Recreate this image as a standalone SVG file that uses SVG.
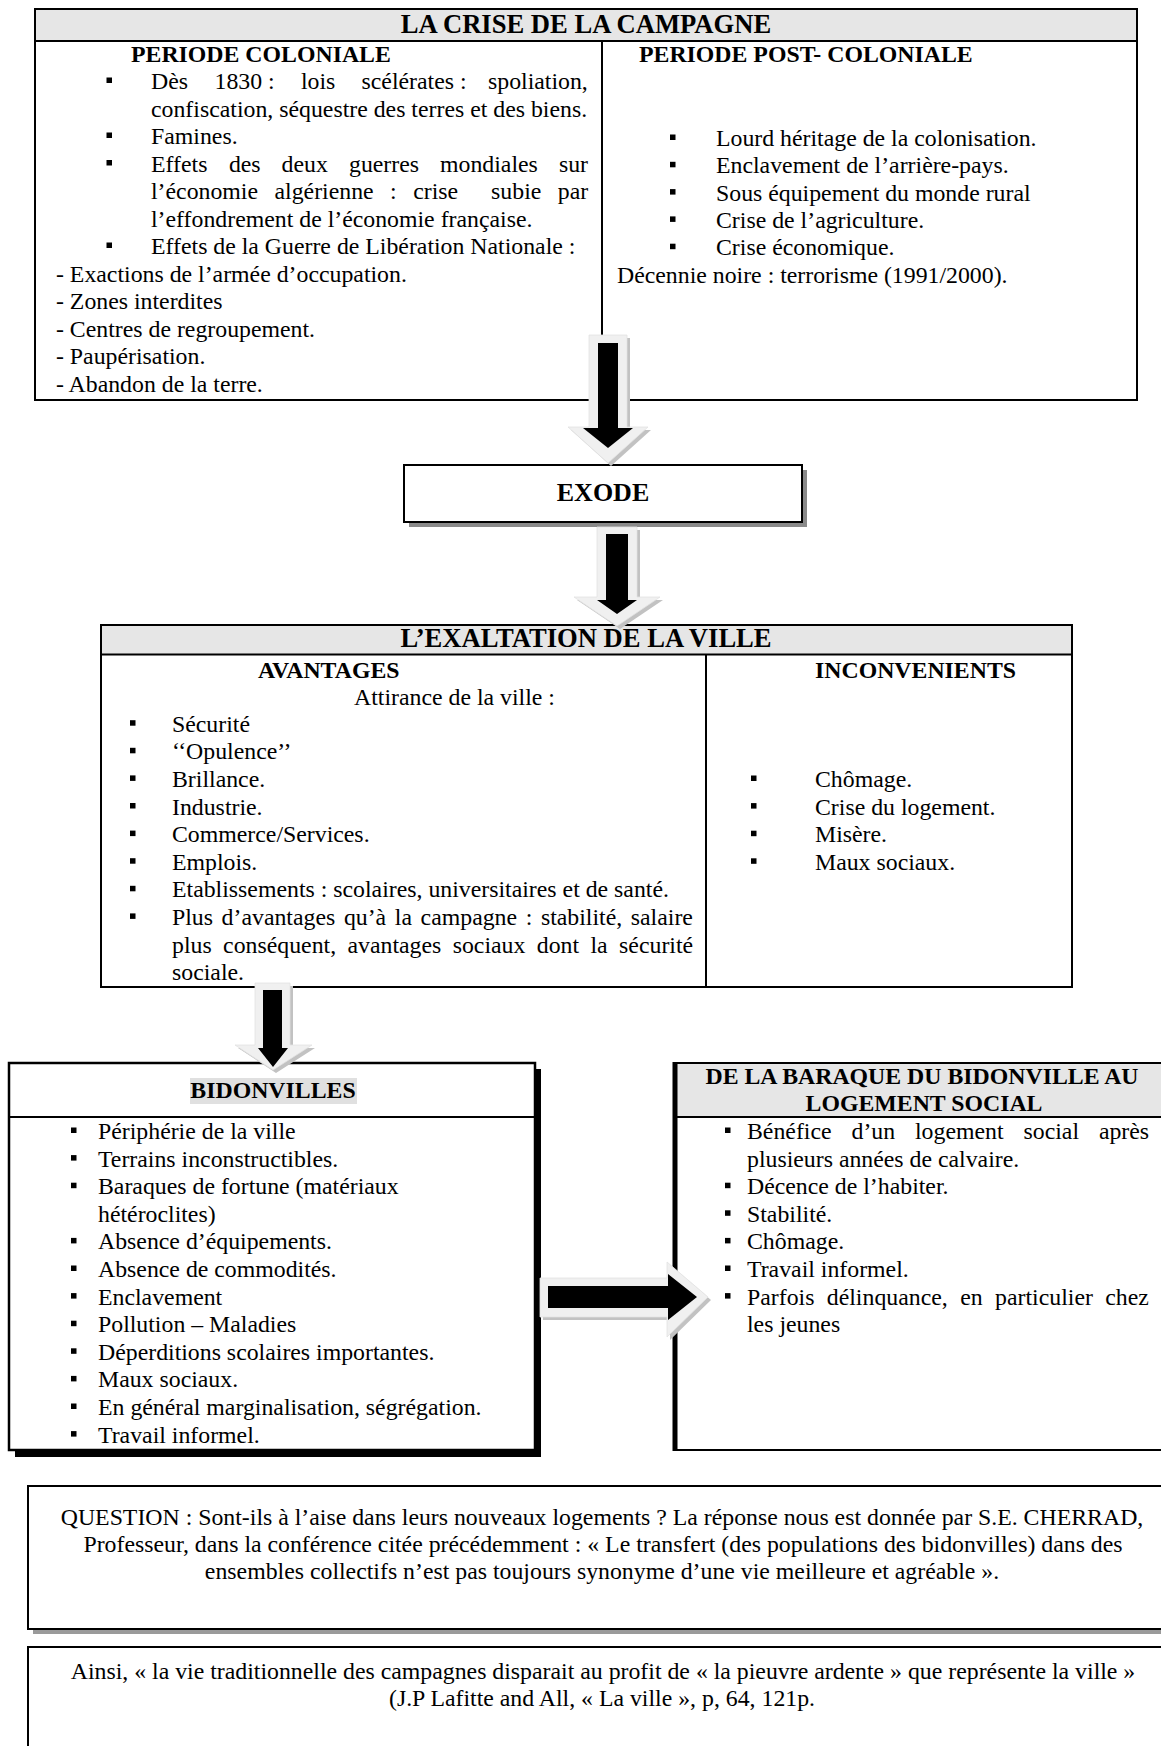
<svg xmlns="http://www.w3.org/2000/svg" xmlns:xlink="http://www.w3.org/1999/xlink" width="1161" height="1746" viewBox="0 0 1161 1746">
<style>
text{font-family:"Liberation Serif","Times New Roman",serif;font-size:23.8px;fill:#000}
.b{font-weight:bold}
.h{font-weight:bold;font-size:26.6px}
.c{text-anchor:middle}
.band{fill:#e6e6e6}
.frame{fill:none;stroke:#000;stroke-width:2}
.ln{stroke:#000;stroke-width:2}
.bg{fill:#fff}
.ash{fill:#c2c2c2}
.aout{fill:#f0f0f0;stroke:#e2e2e2;stroke-width:0.8}
.ain{fill:#000}
</style>
<defs>
<rect id="sq" x="0" y="0" width="5.5" height="5.5" fill="#000"/>
</defs>
<rect x="0" y="0" width="1161" height="1746" fill="#fff"/>

<g id="crise">
<rect class="bg" x="35" y="9" width="1102" height="391"/>
<rect class="band" x="35" y="9" width="1102" height="32"/>
<rect class="frame" x="35" y="9" width="1102" height="391"/>
<line class="ln" x1="35" y1="41" x2="1137" y2="41"/>
<line class="ln" x1="602" y1="41" x2="602" y2="400"/>
<text class="h c" x="586" y="33">LA CRISE DE LA CAMPAGNE</text>
<text class="b" x="131" y="62">PERIODE COLONIALE</text>
<text class="b" x="639" y="62">PERIODE POST- COLONIALE</text>
<use xlink:href="#sq" x="106.5" y="77.5"/>
<text y="89"><tspan x="151">Dès</tspan><tspan x="214.5">1830 :</tspan><tspan x="301">lois</tspan><tspan x="361.5">scélérates :</tspan><tspan x="488">spoliation,</tspan></text>
<text x="151" y="116.5">confiscation, séquestre des terres et des biens.</text>
<use xlink:href="#sq" x="106.5" y="132.5"/>
<text x="151" y="144">Famines.</text>
<use xlink:href="#sq" x="106.5" y="160"/>
<text y="171.5"><tspan x="151">Effets</tspan><tspan x="228.9">des</tspan><tspan x="281.6">deux</tspan><tspan x="349">guerres</tspan><tspan x="440">mondiales</tspan><tspan x="558.9">sur</tspan></text>
<text y="199"><tspan x="151">l’économie</tspan><tspan x="274.5">algérienne</tspan><tspan x="390.1">:</tspan><tspan x="413.2">crise</tspan><tspan x="491.1">subie</tspan><tspan x="557.8">par</tspan></text>
<text x="151" y="226.5">l’effondrement de l’économie française.</text>
<use xlink:href="#sq" x="106.5" y="242.5"/>
<text x="151" y="254">Effets de la Guerre de Libération Nationale :</text>
<text x="56" y="281.5">- Exactions de l’armée d’occupation.</text>
<text x="56" y="309">- Zones interdites</text>
<text x="56" y="336.5">- Centres de regroupement.</text>
<text x="56" y="364">- Paupérisation.</text>
<text x="56" y="391.5">- Abandon de la terre.</text>
<use xlink:href="#sq" x="670" y="134.5"/>
<text x="716" y="146">Lourd héritage de la colonisation.</text>
<use xlink:href="#sq" x="670" y="161.8"/>
<text x="716" y="173.3">Enclavement de l’arrière-pays.</text>
<use xlink:href="#sq" x="670" y="189.1"/>
<text x="716" y="200.6">Sous équipement du monde rural</text>
<use xlink:href="#sq" x="670" y="216.4"/>
<text x="716" y="227.9">Crise de l’agriculture.</text>
<use xlink:href="#sq" x="670" y="243.7"/>
<text x="716" y="255.2">Crise économique.</text>
<text x="617" y="282.5">Décennie noire : terrorisme (1991/2000).</text>
</g>

<g id="exode">
<rect x="409" y="470" width="398" height="57" fill="#8a8a8a"/>
<rect x="404" y="465" width="398" height="57" fill="#fff" stroke="#000" stroke-width="2"/>
<text class="b c" x="603" y="501" style="font-size:26px">EXODE</text>
</g>

<g id="exaltation">
<rect class="bg" x="101" y="625" width="971" height="362"/>
<rect class="band" x="101" y="625" width="971" height="29.5"/>
<rect class="frame" x="101" y="625" width="971" height="362"/>
<line class="ln" x1="101" y1="654.5" x2="1072" y2="654.5"/>
<line class="ln" x1="706" y1="654.5" x2="706" y2="987"/>
<text class="h c" x="586" y="647">L’EXALTATION DE LA VILLE</text>
<text class="b" x="258" y="678">AVANTAGES</text>
<text class="b" x="815" y="678">INCONVENIENTS</text>
<text x="354" y="705">Attirance de la ville :</text>
<use xlink:href="#sq" x="130" y="720.2"/>
<text x="172" y="731.7">Sécurité</text>
<use xlink:href="#sq" x="130" y="747.8"/>
<text x="172" y="759.3">‘‘Opulence’’</text>
<use xlink:href="#sq" x="130" y="775.4"/>
<text x="172" y="786.9">Brillance.</text>
<use xlink:href="#sq" x="130" y="803"/>
<text x="172" y="814.5">Industrie.</text>
<use xlink:href="#sq" x="130" y="830.6"/>
<text x="172" y="842.1">Commerce/Services.</text>
<use xlink:href="#sq" x="130" y="858.2"/>
<text x="172" y="869.7">Emplois.</text>
<use xlink:href="#sq" x="130" y="885.8"/>
<text x="172" y="897.3">Etablissements : scolaires, universitaires et de santé.</text>
<use xlink:href="#sq" x="130" y="913.4"/>
<text y="924.9"><tspan x="172">Plus</tspan><tspan x="221.6">d’avantages</tspan><tspan x="343.9">qu’à</tspan><tspan x="394.8">la</tspan><tspan x="420.6">campagne</tspan><tspan x="525.7">:</tspan><tspan x="540.9">stabilité,</tspan><tspan x="630.8">salaire</tspan></text>
<text y="952.5"><tspan x="172">plus</tspan><tspan x="223.1">conséquent,</tspan><tspan x="347.5">avantages</tspan><tspan x="452.7">sociaux</tspan><tspan x="536.8">dont</tspan><tspan x="590.5">la</tspan><tspan x="619.1">sécurité</tspan></text>
<text x="172" y="980.1">sociale.</text>
<use xlink:href="#sq" x="751" y="775.5"/>
<text x="815" y="787">Chômage.</text>
<use xlink:href="#sq" x="751" y="803.1"/>
<text x="815" y="814.6">Crise du logement.</text>
<use xlink:href="#sq" x="751" y="830.7"/>
<text x="815" y="842.2">Misère.</text>
<use xlink:href="#sq" x="751" y="858.3"/>
<text x="815" y="869.8">Maux sociaux.</text>
</g>

<g id="bidonvilles">
<rect x="15" y="1069" width="526" height="388" fill="#000"/>
<rect x="9" y="1063" width="526" height="387" fill="#fff" stroke="#000" stroke-width="2.5"/>
<line class="ln" x1="9" y1="1117" x2="535" y2="1117"/>
<rect x="190" y="1078" width="167" height="26" fill="#e0e0e0"/>
<text class="b c" x="273" y="1098">BIDONVILLES</text>
<use xlink:href="#sq" x="71" y="1127.5"/>
<text x="98" y="1139">Périphérie de la ville</text>
<use xlink:href="#sq" x="71" y="1155.1"/>
<text x="98" y="1166.6">Terrains inconstructibles.</text>
<use xlink:href="#sq" x="71" y="1182.7"/>
<text x="98" y="1194.2">Baraques de fortune (matériaux</text>
<text x="98" y="1221.8">hétéroclites)</text>
<use xlink:href="#sq" x="71" y="1237.9"/>
<text x="98" y="1249.4">Absence d’équipements.</text>
<use xlink:href="#sq" x="71" y="1265.5"/>
<text x="98" y="1277">Absence de commodités.</text>
<use xlink:href="#sq" x="71" y="1293.1"/>
<text x="98" y="1304.6">Enclavement</text>
<use xlink:href="#sq" x="71" y="1320.7"/>
<text x="98" y="1332.2">Pollution – Maladies</text>
<use xlink:href="#sq" x="71" y="1348.3"/>
<text x="98" y="1359.8">Déperditions scolaires importantes.</text>
<use xlink:href="#sq" x="71" y="1375.9"/>
<text x="98" y="1387.4">Maux sociaux.</text>
<use xlink:href="#sq" x="71" y="1403.5"/>
<text x="98" y="1415">En général marginalisation, ségrégation.</text>
<use xlink:href="#sq" x="71" y="1431.1"/>
<text x="98" y="1442.6">Travail informel.</text>
</g>

<g id="logement">
<rect x="674" y="1063" width="520" height="387" fill="#fff"/>
<rect class="band" x="674" y="1063" width="520" height="54"/>
<rect class="frame" x="674" y="1063" width="520" height="387"/>
<line x1="675" y1="1062" x2="675" y2="1451" stroke="#000" stroke-width="5"/>
<line class="ln" x1="674" y1="1117" x2="1161" y2="1117"/>
<text class="b c" x="922" y="1084">DE LA BARAQUE DU BIDONVILLE AU</text>
<text class="b c" x="924" y="1111">LOGEMENT SOCIAL</text>
<use xlink:href="#sq" x="725" y="1127.5"/>
<text y="1139"><tspan x="747">Bénéfice</tspan><tspan x="851.5">d’un</tspan><tspan x="915">logement</tspan><tspan x="1023.5">social</tspan><tspan x="1098.9">après</tspan></text>
<text x="747" y="1166.6">plusieurs années de calvaire.</text>
<use xlink:href="#sq" x="725" y="1182.7"/>
<text x="747" y="1194.2">Décence de l’habiter.</text>
<use xlink:href="#sq" x="725" y="1210.3"/>
<text x="747" y="1221.8">Stabilité.</text>
<use xlink:href="#sq" x="725" y="1237.9"/>
<text x="747" y="1249.4">Chômage.</text>
<use xlink:href="#sq" x="725" y="1265.5"/>
<text x="747" y="1277">Travail informel.</text>
<use xlink:href="#sq" x="725" y="1293.1"/>
<text y="1304.6"><tspan x="747">Parfois</tspan><tspan x="826.8">délinquance,</tspan><tspan x="960.2">en</tspan><tspan x="995.1">particulier</tspan><tspan x="1105.3">chez</tspan></text>
<text x="747" y="1332.2">les jeunes</text>
</g>

<g id="question">
<rect x="33" y="1491" width="1150" height="143" fill="#9a9a9a"/>
<rect x="28" y="1486" width="1150" height="143" fill="#fff" stroke="#000" stroke-width="2"/>
<text class="c" x="602" y="1525">QUESTION : Sont-ils à l’aise dans leurs nouveaux logements ? La réponse nous est donnée par S.E. CHERRAD,</text>
<text class="c" x="603" y="1552">Professeur,  dans la conférence citée précédemment : « Le transfert  (des populations des bidonvilles) dans des</text>
<text class="c" x="602" y="1579">ensembles collectifs n’est pas toujours synonyme d’une vie meilleure et agréable ».</text>
</g>

<g id="ainsi">
<rect x="28" y="1647" width="1150" height="130" fill="#fff" stroke="#000" stroke-width="2"/>
<text class="c" x="603" y="1679">Ainsi, « la vie traditionnelle des campagnes disparait au profit de « la pieuvre ardente » que représente la ville »</text>
<text class="c" x="602" y="1706">(J.P Lafitte and All, « La ville », p, 64, 121p.</text>
</g>

<g id="connectors">
<g id="arrow-crise-exode">
<polygon class="ash" transform="translate(3,3)" points="589,335 627,335 627,427 648,427 608,463 568,427 589,427"/>
<polygon class="aout" points="589,335 627,335 627,427 648,427 608,463 568,427 589,427"/>
<polygon class="ain" points="598,343 618,343 618,428 633,428 608,448 583,428 598,428"/>
</g>
<g id="arrow-exode-exaltation">
<polygon class="ash" transform="translate(3,3)" points="597,527 637,527 637,597 660,597 617,626 574,597 597,597"/>
<polygon class="aout" points="597,527 637,527 637,597 660,597 617,626 574,597 597,597"/>
<polygon class="ain" points="606,534 628,534 628,600 637,600 617,614 597,600 606,600"/>
</g>
<g id="arrow-exaltation-bidonvilles">
<polygon class="ash" transform="translate(3,3)" points="255,983 290,983 290,1045 312,1045 273,1070 235,1045 255,1045"/>
<polygon class="aout" points="255,983 290,983 290,1045 312,1045 273,1070 235,1045 255,1045"/>
<polygon class="ain" points="263,990 282,990 282,1048 288,1048 273,1067 258,1048 263,1048"/>
</g>
<g id="arrow-bidonvilles-logement">
<polygon class="ash" transform="translate(3,3)" points="540,1278 667,1278 667,1262 708,1297 667,1337 667,1317 540,1317"/>
<polygon class="aout" points="540,1278 667,1278 667,1262 708,1297 667,1337 667,1317 540,1317"/>
<polygon class="ain" points="548,1286 668,1286 668,1274 697,1297 668,1320 668,1308 548,1308"/>
</g>
</g>
</svg>
